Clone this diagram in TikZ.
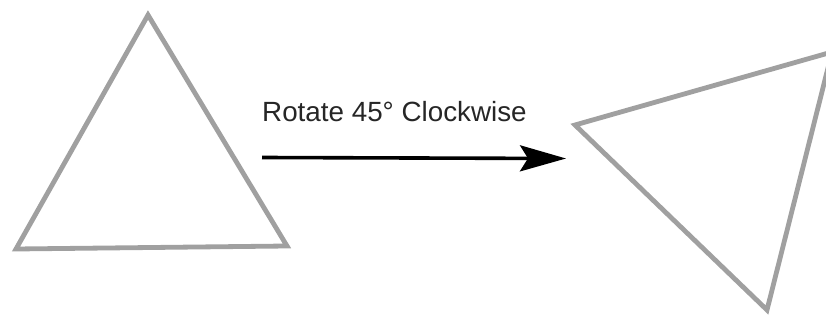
\documentclass[tikz,border=0pt]{standalone}
\usepackage{fontspec}
\setmainfont{Liberation Sans}
\usetikzlibrary{arrows.meta}
\definecolor{trigray}{RGB}{160,160,160}
\tikzset{
  tri/.style={draw=trigray, line width=4.8pt, line join=miter},
  arr/.style={draw=black, line width=3.6pt, -{Stealth[length=46pt, width=26pt, inset=8pt]}},
  lbl/.style={font=\fontsize{27.8}{30}\selectfont, text=black!85, inner sep=0pt, anchor=base west}
}
\begin{document}
\begin{tikzpicture}[x=1pt, y=-1pt]
\useasboundingbox (0,0) rectangle (826,320);
\begin{scope}
\clip (0,0) rectangle (826,320);
% left triangle
\coordinate (a1) at (148,15);
\coordinate (a2) at (16,249);
\coordinate (a3) at (287,246);
\draw[tri] (a1) -- (a2) -- (a3) -- cycle;
% right triangle
\coordinate (b1) at (575,125);
\coordinate (b2) at (832,52);
\coordinate (b3) at (767,310);
\draw[tri] (b1) -- (b2) -- (b3) -- cycle;
\end{scope}
% arrow
\coordinate (s) at (262,157.5);
\coordinate (e) at (566,158.5);
\draw[arr] (s) -- (e);
\node[lbl] (t) at (262,122) {Rotate 45° Clockwise};
\end{tikzpicture}
\end{document}
